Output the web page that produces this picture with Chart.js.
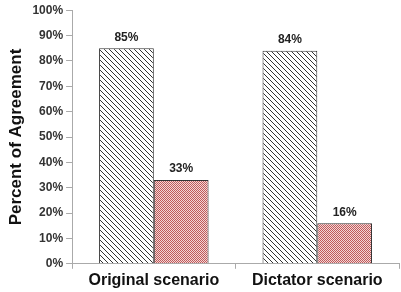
<!DOCTYPE html>
<html><head><meta charset="utf-8">
<script src="https://cdn.jsdelivr.net/npm/chart.js@4/dist/chart.umd.min.js"></script>
<style>html,body{margin:0;padding:0;background:#fff}#w{width:401px;height:292px}</style>
</head><body><div id="w"><canvas id="c" width="401" height="292"></canvas></div>
<script>
const categories = ["Original scenario", "Dictator scenario"];
const seriesA = [85, 84];
const seriesB = [33, 16];
const yTicks = [0,10,20,30,40,50,60,70,80,90,100];

function hatch(){
  const c=document.createElement('canvas');c.width=5;c.height=5;
  const x=c.getContext('2d');x.fillStyle='#fff';x.fillRect(0,0,5,5);
  x.fillStyle='#333';
  for(let i=0;i<5;i++){x.fillRect(i,i,1,1);}
  return x.createPattern(c,'repeat');
}
function checker(){
  const c=document.createElement('canvas');c.width=2;c.height=2;
  const x=c.getContext('2d');x.fillStyle='#f3d6d6';x.fillRect(0,0,2,2);
  x.fillStyle='#c05a5a';x.fillRect(0,0,1,1);x.fillRect(1,1,1,1);
  return x.createPattern(c,'repeat');
}
const F='"Liberation Sans", Arial, sans-serif';
const labelPlugin={id:'lbl',afterDatasetsDraw(ch){
  const ctx=ch.ctx;ctx.save();ctx.font='bold 12px '+F;
  ctx.fillStyle='#222';ctx.textAlign='center';ctx.textBaseline='bottom';
  ch.data.datasets.forEach((ds,i)=>{ch.getDatasetMeta(i).data.forEach((el,j)=>{
    ctx.fillText(ds.data[j]+'%',el.x,el.y-5);});});
  ctx.restore();}};
new Chart(document.getElementById('c'),{type:'bar',
 data:{labels:categories,datasets:[
  {data:seriesA,backgroundColor:hatch(),borderColor:'#333',borderWidth:1,borderSkipped:'bottom',categoryPercentage:0.67,barPercentage:1},
  {data:seriesB,backgroundColor:checker(),borderColor:'#333',borderWidth:1,borderSkipped:'bottom',categoryPercentage:0.67,barPercentage:1}]},
 options:{responsive:false,animation:false,devicePixelRatio:1,
  layout:{padding:{top:6,right:2,left:6,bottom:0}},
  plugins:{legend:{display:false},tooltip:{enabled:false}},
  scales:{
   x:{grid:{display:true,drawOnChartArea:false,offset:true,color:'#aaa',tickLength:5},
      border:{color:'#aaa'},
      ticks:{font:{family:F,size:16,weight:'bold'},color:'#111',padding:2}},
   y:{min:0,max:100,afterBuildTicks(a){a.ticks=yTicks.map(v=>({value:v}));},
      grid:{drawOnChartArea:false,color:'#aaa',tickLength:6},border:{color:'#aaa'},
      ticks:{callback:v=>v+'%',font:{family:F,size:12,weight:'bold'},color:'#333',padding:3},
      title:{display:true,text:'Percent of Agreement',font:{family:F,size:17,weight:'bold'},color:'#111',padding:{top:0,bottom:3}}}
  }},plugins:[labelPlugin]});
</script></body></html>
